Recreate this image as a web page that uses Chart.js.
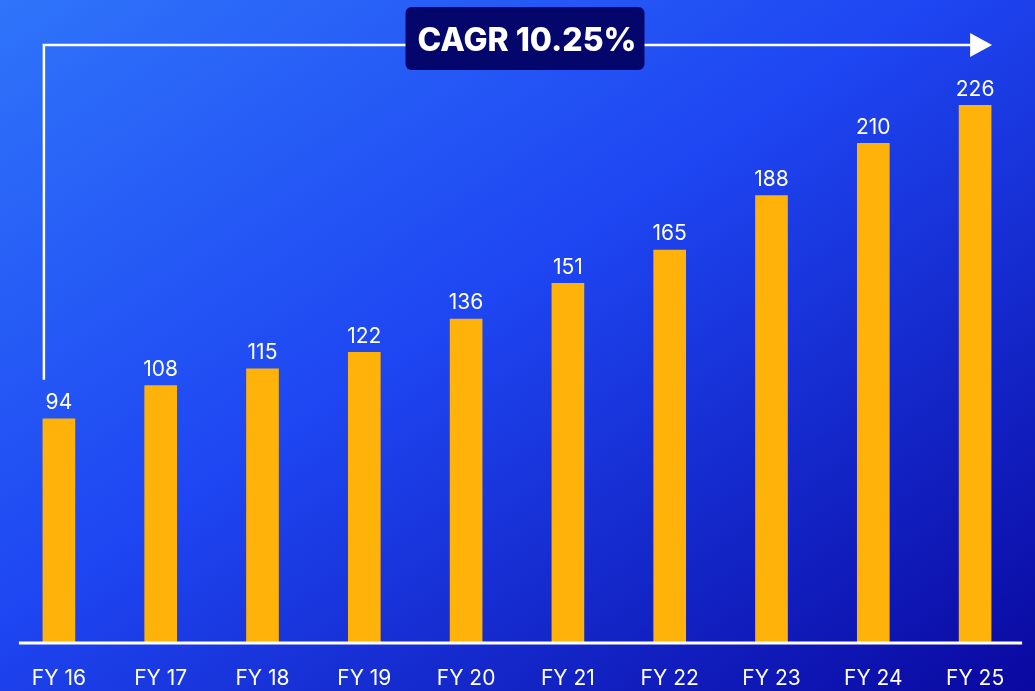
<!DOCTYPE html>
<html>
<head>
<meta charset="utf-8">
<script src="https://cdn.jsdelivr.net/npm/chart.js@4"></script>
<style>
  html, body { margin: 0; padding: 0; }
  body {
    width: 1035px; height: 691px; overflow: hidden;
    background: linear-gradient(to bottom right, #2F74FA 0%, #1E46F2 45%, #0A08A0 100%);
  }
  #wrap { position: relative; width: 1035px; height: 691px; }
</style>
</head>
<body>
<div id="wrap"><canvas id="cagrChart"></canvas></div>
<script>
const years = ['FY 16', 'FY 17', 'FY 18', 'FY 19', 'FY 20', 'FY 21', 'FY 22', 'FY 23', 'FY 24', 'FY 25'];
const values = [94, 108, 115, 122, 136, 151, 165, 188, 210, 226];
const cagrLabel = 'CAGR 10.25%';

const ctx = document.getElementById('cagrChart').getContext('2d');

// value labels above each bar + white baseline
const valueLabels = {
    id: 'valueLabels',
    afterDatasetsDraw(chart) {
        const c = chart.ctx;
        const meta = chart.getDatasetMeta(0);
        const first = meta.data[0];
        const last = meta.data[meta.data.length - 1];
        c.save();
        c.strokeStyle = '#ffffff';
        c.lineWidth = 3;
        c.beginPath();
        c.moveTo(first.x - 40, chart.chartArea.bottom + 1);
        c.lineTo(last.x + 47, chart.chartArea.bottom + 1);
        c.stroke();

        c.fillStyle = '#ffffff';
        c.font = '21px Inter';
        c.textAlign = 'center';
        c.textBaseline = 'middle';
        meta.data.forEach((bar, i) => {
            c.fillText(values[i], bar.x, bar.y - 16);
        });
        c.restore();
    }
};

// CAGR bracket arrow with the label box
const cagrArrow = {
    id: 'cagrArrow',
    afterDraw(chart) {
        const c = chart.ctx;
        const meta = chart.getDatasetMeta(0);
        const first = meta.data[0];
        const last = meta.data[meta.data.length - 1];
        const x0 = first.x - first.width / 2 + 1;
        const x1 = last.x + last.width / 2 + 1;
        const lineY = 45;
        const startY = first.y - 39;

        c.save();
        c.strokeStyle = '#ffffff';
        c.fillStyle = '#ffffff';
        c.lineWidth = 2.5;
        c.beginPath();
        c.moveTo(x0, startY);
        c.lineTo(x0, lineY);
        c.lineTo(x1 - 20, lineY);
        c.stroke();

        c.beginPath();
        c.moveTo(x1, lineY);
        c.lineTo(x1 - 22, lineY - 12);
        c.lineTo(x1 - 22, lineY + 12);
        c.closePath();
        c.fill();

        // label box
        c.font = '800 32px Inter';
        const tw = c.measureText(cagrLabel).width;
        const bw = tw + 20, bh = 63;
        const cx = 525;
        const bx = cx - bw / 2, by = 7;
        c.fillStyle = '#04066B';
        c.beginPath();
        c.roundRect(bx, by, bw, bh, 6);
        c.fill();
        c.fillStyle = '#ffffff';
        c.textAlign = 'center';
        c.textBaseline = 'middle';
        c.fillText(cagrLabel, cx + 2, by + bh / 2 + 3);
        c.restore();
    }
};

new Chart(ctx, {
    type: 'bar',
    data: {
        labels: years,
        datasets: [{
            data: values,
            backgroundColor: '#FFB20A',
            borderWidth: 0,
            barThickness: 32
        }]
    },
    options: {
        responsive: true,
        maintainAspectRatio: false,
        animation: false,
        layout: { padding: { left: 8, right: 9, top: 72, bottom: 1 } },
        plugins: {
            legend: { display: false },
            tooltip: { enabled: false }
        },
        scales: {
            x: {
                grid: { display: false, drawTicks: false },
                border: { display: false },
                ticks: {
                    color: '#ffffff',
                    font: { family: 'Inter', size: 21 },
                    padding: 24,
                    maxRotation: 0
                },
                afterFit(scale) { scale.height = 48; }
            },
            y: {
                display: false,
                min: 0,
                max: 240
            }
        }
    },
    plugins: [valueLabels, cagrArrow]
});
</script>
</body>
</html>
